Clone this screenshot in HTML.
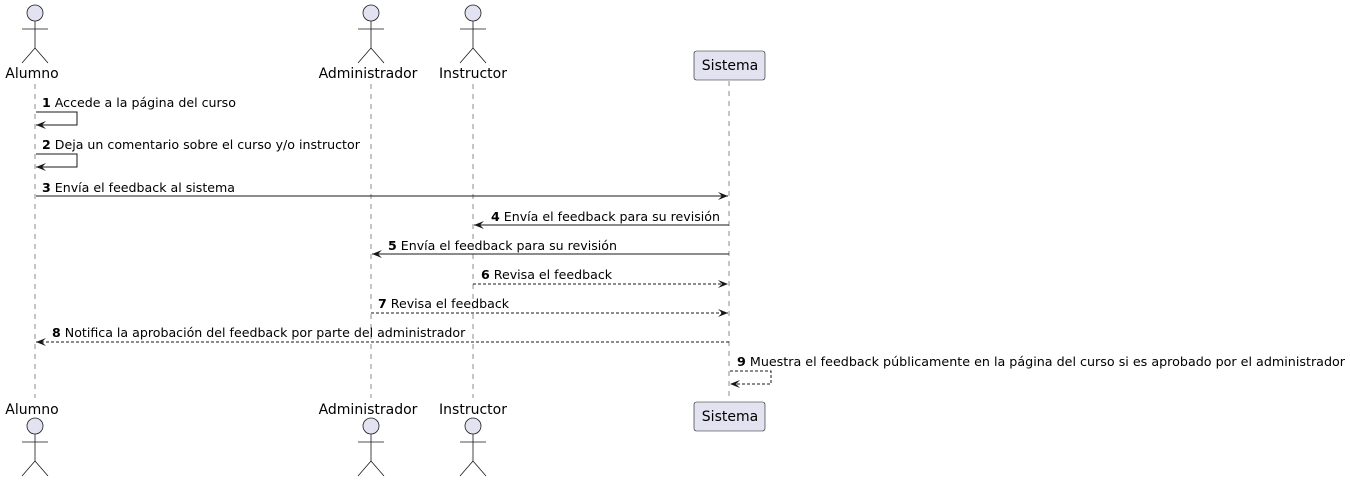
<!DOCTYPE html>
<html><head><meta charset="utf-8"><style>
html,body{margin:0;padding:0;background:#fff}
svg{display:block}
text{font-family:"DejaVu Sans","Liberation Sans",sans-serif;fill:#000}
</style></head><body>
<svg width="1350" height="482" xmlns="http://www.w3.org/2000/svg">
<g stroke="#181818" stroke-width="0.5" stroke-dasharray="5,5">
<line x1="35" y1="84" x2="35" y2="398"/>
<line x1="371" y1="84" x2="371" y2="398"/>
<line x1="473" y1="84" x2="473" y2="398"/>
<line x1="729" y1="81" x2="729" y2="401"/>
</g>
<defs>
<g id="act" fill="none" stroke="#181818" stroke-width="0.8">
<circle cx="0" cy="0" r="8" fill="#E2E2F0"/>
<line x1="0" y1="8" x2="0" y2="35"/>
<line x1="-13" y1="16" x2="13" y2="16"/>
<line x1="0" y1="35" x2="-13" y2="50"/>
<line x1="0" y1="35" x2="13" y2="50"/>
</g>
</defs>
<use href="#act" x="35" y="13"/><use href="#act" x="371" y="13"/><use href="#act" x="473" y="13"/>
<use href="#act" x="35" y="426"/><use href="#act" x="371" y="426"/><use href="#act" x="473" y="426"/>
<g font-size="14" text-anchor="middle">
<text x="32" y="78">Alumno</text><text x="368" y="78">Administrador</text><text x="473" y="78">Instructor</text>
<text x="32" y="414">Alumno</text><text x="368" y="414">Administrador</text><text x="473" y="414">Instructor</text>
</g>
<rect x="694" y="51" width="71" height="29" rx="2.5" fill="#E2E2F0" stroke="#181818" stroke-width="0.6"/>
<rect x="694" y="402" width="71" height="29" rx="2.5" fill="#E2E2F0" stroke="#181818" stroke-width="0.6"/>
<g font-size="14" text-anchor="middle"><text x="730" y="70">Sistema</text><text x="730" y="421">Sistema</text></g>
<g stroke="#181818" stroke-width="1" fill="none">
<polyline points="36,112 77,112 77,125 36,125"/>
<polyline points="36,154 77,154 77,167 36,167"/>
<line x1="36" y1="196" x2="728" y2="196"/>
<line x1="729" y1="225" x2="474" y2="225"/>
<line x1="729" y1="254" x2="372" y2="254"/>
<line x1="473" y1="284" x2="728" y2="284" stroke-dasharray="3,2"/>
<line x1="371" y1="313" x2="728" y2="313" stroke-dasharray="3,2"/>
<line x1="729" y1="342" x2="36" y2="342" stroke-dasharray="3,2"/>
<polyline points="730,371 771,371 771,384 730,384" stroke-dasharray="3,2"/>
</g>
<g fill="#181818">
<polygon points="36,125 46,121 42,125 46,129"/>
<polygon points="36,167 46,163 42,167 46,171"/>
<polygon points="728,196 718,192 722,196 718,200"/>
<polygon points="474,225 484,221 480,225 484,229"/>
<polygon points="372,254 382,250 378,254 382,258"/>
<polygon points="728,284 718,280 722,284 718,288"/>
<polygon points="728,313 718,309 722,313 718,317"/>
<polygon points="36,342 46,338 42,342 46,346"/>
<polygon points="730,384 740,380 736,384 740,388"/>
</g>
<g font-size="12.6">
<text x="42" y="107"><tspan font-weight="bold">1</tspan> Accede a la página del curso</text>
<text x="42" y="149"><tspan font-weight="bold">2</tspan> Deja un comentario sobre el curso y/o instructor</text>
<text x="42" y="192"><tspan font-weight="bold">3</tspan> Envía el feedback al sistema</text>
<text x="491" y="221"><tspan font-weight="bold">4</tspan> Envía el feedback para su revisión</text>
<text x="388" y="250"><tspan font-weight="bold">5</tspan> Envía el feedback para su revisión</text>
<text x="481" y="279"><tspan font-weight="bold">6</tspan> Revisa el feedback</text>
<text x="378" y="308"><tspan font-weight="bold">7</tspan> Revisa el feedback</text>
<text x="52" y="337"><tspan font-weight="bold">8</tspan> Notifica la aprobación del feedback por parte del administrador</text>
<text x="737" y="366" textLength="608" lengthAdjust="spacingAndGlyphs"><tspan font-weight="bold">9</tspan> Muestra el feedback públicamente en la página del curso si es aprobado por el administrador</text>
</g>
</svg>
</body></html>
